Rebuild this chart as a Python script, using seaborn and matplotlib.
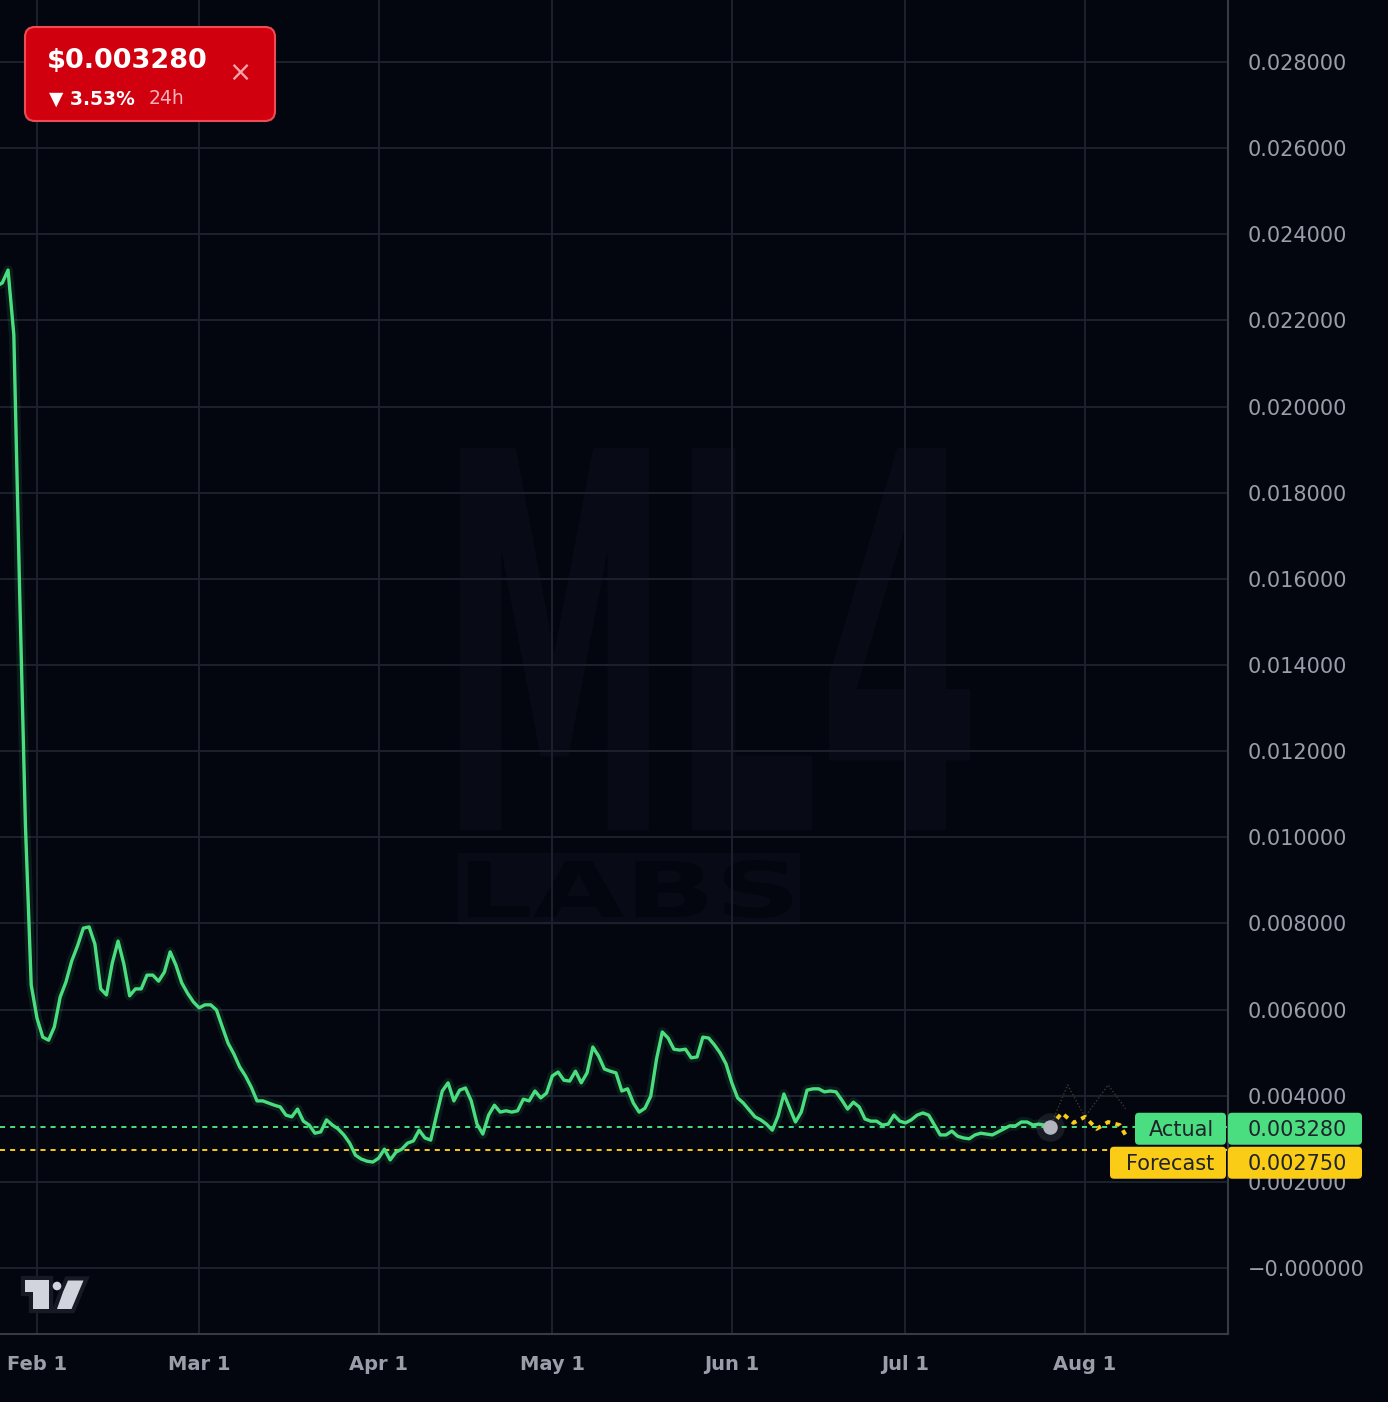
import numpy as np
import pandas as pd
import matplotlib
matplotlib.use("Agg")
import matplotlib.pyplot as plt
import matplotlib.ticker as mticker
from matplotlib.patches import FancyBboxPatch, Polygon, Circle, Rectangle, PathPatch
from matplotlib.textpath import TextPath
from matplotlib.font_manager import FontProperties
from matplotlib.transforms import Affine2D
import seaborn as sns

# ---------------- data ----------------
start_date = "2025-01-25"
actual_values = [
    0.02280, 0.02287, 0.02317, 0.02166, 0.01572, 0.01029, 0.00657,            # Jan 25 - Jan 31
    0.00580, 0.00536, 0.00529, 0.00560, 0.00629, 0.00664, 0.00713, 0.00748,   # Feb 1 - 8
    0.00789, 0.00792, 0.00752, 0.00648, 0.00634, 0.00708, 0.00759, 0.00706,   # Feb 9 - 16
    0.00632, 0.00648, 0.00648, 0.00680, 0.00680, 0.00666, 0.00687, 0.00734,   # Feb 17 - 24
    0.00703, 0.00662, 0.00638, 0.00618,                                       # Feb 25 - 28
    0.00604, 0.00611, 0.00611, 0.00599, 0.00560, 0.00522, 0.00497, 0.00467,   # Mar 1 - 8
    0.00446, 0.00420, 0.00388, 0.00388, 0.00383, 0.00378, 0.00374, 0.00355,   # Mar 9 - 16
    0.00351, 0.00369, 0.00341, 0.00332, 0.00313, 0.00316, 0.00344, 0.00332,   # Mar 17 - 24
    0.00323, 0.00309, 0.00290, 0.00262, 0.00253, 0.00248, 0.00246,            # Mar 25 - 31
    0.00255, 0.00276, 0.00251, 0.00269, 0.00276, 0.00290, 0.00295, 0.00320,   # Apr 1 - 8
    0.00302, 0.00297, 0.00355, 0.00411, 0.00430, 0.00388, 0.00413, 0.00418,   # Apr 9 - 16
    0.00388, 0.00334, 0.00311, 0.00355, 0.00378, 0.00362, 0.00365, 0.00362,   # Apr 17 - 24
    0.00365, 0.00392, 0.00388, 0.00411, 0.00395, 0.00406,                     # Apr 25 - 30
    0.00446, 0.00455, 0.00436, 0.00434, 0.00457, 0.00430, 0.00453, 0.00513,   # May 1 - 8
    0.00492, 0.00462, 0.00457, 0.00453, 0.00411, 0.00416, 0.00383, 0.00362,   # May 9 - 16
    0.00371, 0.00399, 0.00485, 0.00548, 0.00534, 0.00508, 0.00506, 0.00508,   # May 17 - 24
    0.00488, 0.00490, 0.00536, 0.00534, 0.00518, 0.00499, 0.00474,            # May 25 - 31
    0.00430, 0.00395, 0.00383, 0.00367, 0.00351, 0.00344, 0.00334, 0.00320,   # Jun 1 - 8
    0.00353, 0.00404, 0.00371, 0.00339, 0.00362, 0.00413, 0.00416, 0.00416,   # Jun 9 - 16
    0.00409, 0.00411, 0.00409, 0.00390, 0.00369, 0.00385, 0.00374, 0.00346,   # Jun 17 - 24
    0.00341, 0.00341, 0.00332, 0.00334, 0.00355, 0.00341,                     # Jun 25 - 30
    0.00337, 0.00344, 0.00355, 0.00360, 0.00355, 0.00332, 0.00309, 0.00309,   # Jul 1 - 8
    0.00318, 0.00306, 0.00302, 0.00300, 0.00309, 0.00313, 0.00311, 0.00309,   # Jul 9 - 16
    0.00316, 0.00323, 0.00330, 0.00330, 0.00339, 0.00339, 0.00332, 0.00334,   # Jul 17 - 24
    0.00332, 0.00328,                                                         # Jul 25 - 26
]
forecast_dates = ["2025-07-26", "2025-07-28", "2025-07-30", "2025-08-01",
                  "2025-08-03", "2025-08-05", "2025-08-07", "2025-08-08"]
forecast_values = [0.00328, 0.00360, 0.00337, 0.00351, 0.00323, 0.00339, 0.00332, 0.00309]
band_dates = ["2025-07-26", "2025-07-29", "2025-08-01", "2025-08-05", "2025-08-08"]
band_upper = [0.00328, 0.00425, 0.00351, 0.00425, 0.00370]

current_price = 0.003280
forecast_price = 0.002750
change_24h = "3.53%"
month_ticks = ["2025-02-01", "2025-03-01", "2025-04-01", "2025-05-01",
               "2025-06-01", "2025-07-01", "2025-08-01"]
month_labels = ["Feb 1", "Mar 1", "Apr 1", "May 1", "Jun 1", "Jul 1", "Aug 1"]
y_ticks = [0.000, 0.002, 0.004, 0.006, 0.008, 0.010, 0.012, 0.014,
           0.016, 0.018, 0.020, 0.022, 0.024, 0.026, 0.028]

# ---------------- style ----------------
BG = "#03060f"
GRID = "#1d2330"
GREEN = "#4ade80"
YELLOW = "#facc15"
TICK = "#9a9ea8"
SPINE = "#363a45"
WM = "#080b15"

sns.set_theme(style="dark")
plt.rcParams["font.family"] = ["DejaVu Sans"]

W, H = 1388, 1402
fig = plt.figure(figsize=(W / 100, H / 100), dpi=100)
fig.patch.set_facecolor(BG)
ax = fig.add_axes([0, 68 / H, 1228 / W, 1334 / H])
ax.set_facecolor(BG)
ax.set_axisbelow(True)

df = pd.DataFrame({"date": pd.date_range(start_date, periods=len(actual_values), freq="D"),
                   "price": actual_values})
fc = pd.DataFrame({"date": pd.to_datetime(forecast_dates), "price": forecast_values})
band = pd.DataFrame({"date": pd.to_datetime(band_dates), "price": band_upper})

# watermark (pixel-space placement, top-left origin)
pix = Affine2D().scale(1, -1).translate(0, H)

def fitted_text(txt, x0, y0, x1, y1, color, z):
    tp = TextPath((0, 0), txt, size=100, prop=FontProperties(family="DejaVu Sans", weight="bold"))
    ext = tp.get_extents()
    tr = (Affine2D().translate(-ext.x0, -ext.y0)
          .scale((x1 - x0) / ext.width, -(y1 - y0) / ext.height)
          .translate(x0, y1))
    p = PathPatch(tr.transform_path(tp), fc=color, ec="none", zorder=z)
    p.set_transform(pix)
    p.set_clip_on(False)
    ax.add_patch(p)

fitted_text("ML4", 460, 448, 970, 830, WM, 0.2)
r = Rectangle((458, 853), 342, 72, fc=WM, ec="none", zorder=0.2)
r.set_transform(pix)
ax.add_patch(r)
fitted_text("LABS", 468, 860, 792, 918, BG, 0.25)

# horizontal reference lines
ax.axhline(current_price, color=GREEN, lw=1.4, ls=(0, (2.6, 2.6)), zorder=2)
ax.axhline(forecast_price, color=YELLOW, lw=1.4, ls=(0, (2.6, 2.6)), zorder=2)

# main line with glow
sns.lineplot(data=df, x="date", y="price", ax=ax, color=GREEN, lw=7, alpha=0.10, zorder=3)
sns.lineplot(data=df, x="date", y="price", ax=ax, color=GREEN, lw=2.4, zorder=4)

# forecast band (faint) and forecast line
sns.lineplot(data=band, x="date", y="price", ax=ax, color="#3b3a2a", lw=1.0,
             ls=(0, (1, 1.5)), zorder=3)
sns.lineplot(data=fc, x="date", y="price", ax=ax, color=YELLOW, lw=2.8,
             ls=(0, (1.3, 1.4)), zorder=4)

# last point dot
last = df.iloc[-1]
ax.scatter([last["date"]], [last["price"]], s=420, color="#b2b5be", alpha=0.12, zorder=5, lw=0)
ax.scatter([last["date"]], [last["price"]], s=110, color="#b2b5be", zorder=6, lw=0)

# axes limits & ticks
feb1 = pd.Timestamp("2025-02-01")
ax.set_xlim(feb1 - pd.Timedelta(days=6.39), feb1 + pd.Timedelta(days=205.7))
ax.set_ylim(-0.001532, 0.02944)
ax.set_xticks(pd.to_datetime(month_ticks))
ax.set_xticklabels(month_labels)
ax.set_yticks(y_ticks)
ax.yaxis.set_major_formatter(mticker.FuncFormatter(
    lambda v, p: "\u22120.000000" if abs(v) < 1e-12 else f"{v:.6f}"))
ax.yaxis.tick_right()
ax.tick_params(axis="y", length=0, pad=14, labelsize=15, labelcolor=TICK)
ax.tick_params(axis="x", length=0, pad=15, labelsize=14, labelcolor=TICK)
for t in ax.get_xticklabels():
    t.set_fontweight("bold")
ax.set_xlabel("")
ax.set_ylabel("")
ax.grid(True, color=GRID, lw=1.3)
for s in ["left", "top"]:
    ax.spines[s].set_visible(False)
for s in ["right", "bottom"]:
    ax.spines[s].set_visible(True)
    ax.spines[s].set_color(SPINE)
    ax.spines[s].set_linewidth(1.5)

# ---------------- overlay (pixel coords) ----------------
oax = fig.add_axes([0, 0, 1, 1], zorder=10)
oax.set_xlim(0, W)
oax.set_ylim(H, 0)
oax.axis("off")
oax.patch.set_alpha(0)

def ypix(v):
    return H - ax.transData.transform((0, v))[1]

ya = ypix(current_price)
bh = 32
a_top = ya - bh / 2 + 2
f_top = a_top + bh + 2
DARK = "#1f232b"
for (x0, x1, top, col) in [(1135, 1226, a_top, GREEN), (1228, 1362, a_top, GREEN),
                           (1110, 1226, f_top, YELLOW), (1228, 1362, f_top, YELLOW)]:
    oax.add_patch(FancyBboxPatch((x0, top), x1 - x0, bh,
                                 boxstyle="round,pad=0,rounding_size=4",
                                 fc=col, ec="none", zorder=2))
oax.text(1214, a_top + bh / 2 + 1, "Actual", ha="right", va="center", fontsize=15, color=DARK, zorder=3)
oax.text(1248, a_top + bh / 2 + 1, f"{current_price:.6f}", ha="left", va="center", fontsize=15, color=DARK, zorder=3)
oax.text(1214, f_top + bh / 2 + 1, "Forecast", ha="right", va="center", fontsize=15, color=DARK, zorder=3)
oax.text(1248, f_top + bh / 2 + 1, f"{forecast_price:.6f}", ha="left", va="center", fontsize=15, color=DARK, zorder=3)

# price badge
oax.add_patch(FancyBboxPatch((25, 27), 250, 94, boxstyle="round,pad=0,rounding_size=10",
                             fc="#d1000f", ec="#ef4b56", lw=1.5, zorder=2))
oax.text(47, 61, f"${current_price:.6f}", ha="left", va="center", fontsize=19.5,
         fontweight="bold", color="white", zorder=3)
oax.text(240, 73, "\u00d7", ha="center", va="center", fontsize=20, color="#f3a5ab", zorder=3)
oax.text(49, 99, f"\u25bc {change_24h}", ha="left", va="center", fontsize=13.5,
         fontweight="bold", color="white", zorder=3)
oax.text(149, 99, "24h", ha="left", va="center", fontsize=13.5, color="#f6b3b8", zorder=3)

# TradingView logo
logo_col = "#d1d4dc"
logo_edge = "#161a24"
t_shape = [(25, 1280), (49, 1280), (49, 1309), (33, 1309), (33, 1292), (25, 1292)]
slash = [(63, 1292), (68, 1280.5), (83.5, 1280.5), (71.5, 1309), (57, 1309)]
for poly in [t_shape, slash]:
    oax.add_patch(Polygon(poly, closed=True, fc=logo_edge, ec=logo_edge, lw=6, zorder=2))
for poly in [t_shape, slash]:
    oax.add_patch(Polygon(poly, closed=True, fc=logo_col, ec="none", zorder=3))
oax.add_patch(Circle((57, 1286), 4.3, fc=logo_col, ec="none", zorder=3))

fig.savefig("out.png", dpi=100, facecolor=BG)
